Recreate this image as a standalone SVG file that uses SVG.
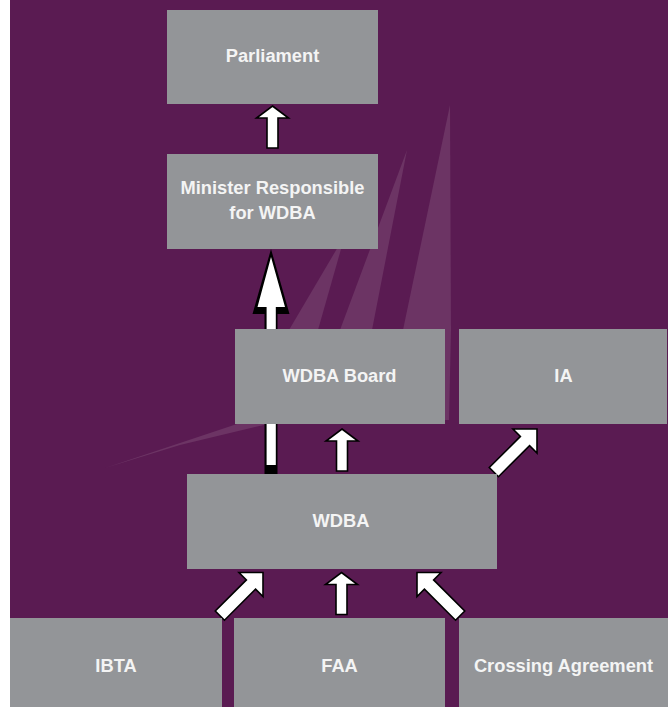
<svg xmlns="http://www.w3.org/2000/svg" width="668" height="707" viewBox="0 0 668 707">
  <style>
    .box { fill: #939598; }
    .lbl { font-family: "Liberation Sans", Arial, sans-serif; font-weight: bold; font-size: 18.3px; fill: #F4F4F4; text-anchor: middle; }
    .arr { fill: #FFFFFF; stroke: #000000; stroke-width: 1.6; stroke-linejoin: miter; }
    .streak { fill: #6C3464; }
  </style>
  <defs>
    <path id="vArrow" d="M0,0 L16,12 L5.5,12 L5.5,42 L-5.5,42 L-5.5,12 L-16,12 Z"/>
    <path id="dArrow" d="M0,0 L17,17 L6.5,17 L6.5,61 L-6.5,61 L-6.5,17 L-17,17 Z"/>
  </defs>

  <g id="background">
    <rect x="0" y="0" width="668" height="707" fill="#FFFFFF"/>
    <rect x="10" y="0" width="658" height="707" fill="#5A1B52"/>
    <polygon class="streak" points="450,105 451,330 449,420 385,420 403,330"/>
    <polygon class="streak" points="407,150 372,330 366,360 320,360 340,330"/>
    <polygon class="streak" points="345,235 318,330 300,380 270,380 289,330"/>
    <polygon class="streak" points="105,468 240,423 300,400 300,415 268,424 180,445"/>
  </g>

  <g id="connectors">
    <!-- WDBA -> Minister (long arrow, behind WDBA Board) -->
    <polygon points="271,249 289.5,314 277.5,314 277.5,474 264.5,474 264.5,314 252.5,314" fill="#000000"/>
    <polygon points="271,257 285,307 275.8,307 275.8,465 266.6,465 266.6,307 257.5,307" fill="#FFFFFF"/>
    <!-- Minister -> Parliament -->
    <use href="#vArrow" class="arr" transform="translate(272.5,106)"/>
    <!-- WDBA -> WDBA Board -->
    <use href="#vArrow" class="arr" transform="translate(342,429)"/>
    <!-- WDBA -> IA -->
    <use href="#dArrow" class="arr" transform="translate(537,429) rotate(45)"/>
    <!-- IBTA -> WDBA -->
    <use href="#dArrow" class="arr" transform="translate(263,572.5) rotate(45)"/>
    <!-- FAA -> WDBA -->
    <use href="#vArrow" class="arr" transform="translate(341.5,572.5)"/>
    <!-- Crossing Agreement -> WDBA -->
    <use href="#dArrow" class="arr" transform="translate(417,572.5) rotate(-45)"/>
  </g>

  <g id="parliament">
    <rect class="box" x="167" y="10" width="211" height="94"/>
    <text class="lbl" x="272.5" y="62">Parliament</text>
  </g>
  <g id="minister">
    <rect class="box" x="167" y="154" width="211" height="95"/>
    <text class="lbl" x="272.5" y="194">Minister Responsible</text>
    <text class="lbl" x="272.5" y="218.5">for WDBA</text>
  </g>
  <g id="wdba-board">
    <rect class="box" x="235" y="329" width="210" height="95"/>
    <text class="lbl" x="339.5" y="382">WDBA Board</text>
  </g>
  <g id="ia">
    <rect class="box" x="459" y="329" width="208" height="95"/>
    <text class="lbl" x="563.5" y="382">IA</text>
  </g>
  <g id="wdba">
    <rect class="box" x="187" y="474" width="310" height="95"/>
    <text class="lbl" x="341" y="527">WDBA</text>
  </g>
  <g id="ibta">
    <rect class="box" x="10" y="618" width="212" height="89"/>
    <text class="lbl" x="116" y="671.5">IBTA</text>
  </g>
  <g id="faa">
    <rect class="box" x="234" y="618" width="211" height="89"/>
    <text class="lbl" x="339.5" y="671.5">FAA</text>
  </g>
  <g id="crossing">
    <rect class="box" x="459" y="618" width="209" height="89"/>
    <text class="lbl" x="563.5" y="671.5">Crossing Agreement</text>
  </g>
</svg>
